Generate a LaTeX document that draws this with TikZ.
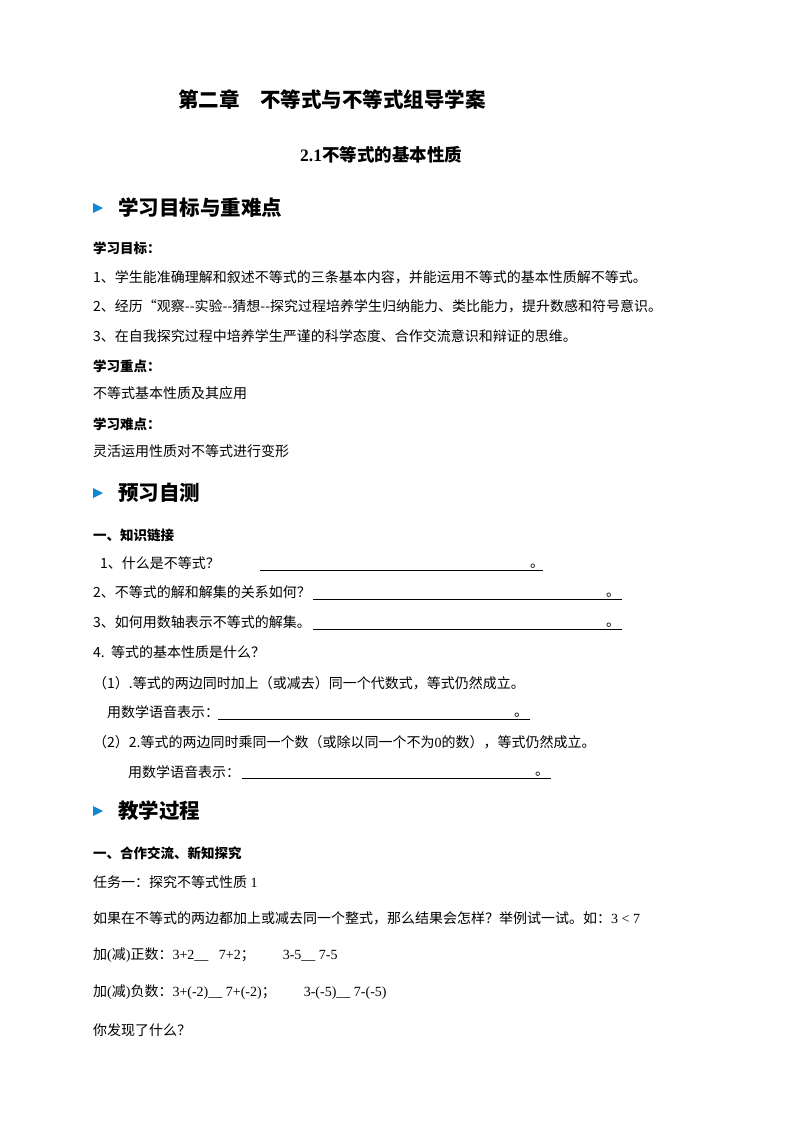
\documentclass[tikz,border=0pt]{standalone}
\usepackage{fontspec}
\setmainfont{Liberation Serif}
\newfontfamily\cjk{Noto Sans CJK SC}
\begin{document}
\begin{tikzpicture}[x=1pt,y=-1pt,
  txt/.style={anchor=west,inner sep=0pt,font=\cjk\fontsize{14}{14}\selectfont},
  btxt/.style={anchor=west,inner sep=0pt,font=\cjk\bfseries\fontsize{13.5}{13.5}\selectfont},
  head/.style={anchor=west,inner sep=0pt,font=\cjk\bfseries\fontsize{20.5}{20.5}\selectfont},
  tri/.style={fill=cyan!70!blue},
  uline/.style={line width=0.8pt}]
\useasboundingbox[fill=white] (0,0) rectangle (800,1132);
\node[head] (t1) at (178,100) {第二章\hspace{1em}不等式与不等式组导学案};
\node[anchor=west,inner sep=0pt,font=\cjk\bfseries\fontsize{17.5}{17.5}\selectfont] (t2) at (300,155) {{\rmfamily\bfseries 2.1}不等式的基本性质};
\foreach \y/\t/\n in {208/学习目标与重难点/h1,493/预习自测/h2,811/教学过程/h3}{
  \fill[tri] (93,\y-5) -- (103,\y) -- (93,\y+5) -- cycle;
  \node[head] (\n) at (118,\y) {\t};
}
\node[btxt] (a1) at (93,248) {学习目标：};
\node[txt] (a2) at (93,277) {1、学生能准确理解和叙述不等式的三条基本内容，并能运用不等式的基本性质解不等式。};
\node[txt] (a3) at (93,306) {2、经历“观察--实验--猜想--探究过程培养学生归纳能力、类比能力，提升数感和符号意识。};
\node[txt] (a4) at (93,336) {3、在自我探究过程中培养学生严谨的科学态度、合作交流意识和辩证的思维。};
\node[btxt] (a5) at (93,366) {学习重点：};
\node[txt] (a6) at (93,393) {不等式基本性质及其应用};
\node[btxt] (a7) at (93,424) {学习难点：};
\node[txt] (a8) at (93,451) {灵活运用性质对不等式进行变形};
\node[btxt] (b1) at (93,535) {一、知识链接};
\node[txt] (b2) at (100,563) {1、什么是不等式？};
\draw[uline] (260,570) -- (543,570); \node[txt] (e1) at (530,566) {。};
\node[txt] (b3) at (93,592) {2、不等式的解和解集的关系如何？};
\draw[uline] (313,599) -- (622,599); \node[txt] (e2) at (606,595) {。};
\node[txt] (b4) at (93,622) {3、如何用数轴表示不等式的解集。};
\draw[uline] (313,629) -- (622,629); \node[txt] (e3) at (606,625) {。};
\node[txt] (b5) at (93,652) {4.\ \ 等式的基本性质是什么？};
\node[txt] (b6) at (93,683) {（1）.等式的两边同时加上（或减去）同一个代数式，等式仍然成立。};
\node[txt] (b7) at (107,712) {用数学语音表示：};
\draw[uline] (218,719) -- (530,719); \node[txt] (e4) at (514,715) {。};
\node[txt] (b8) at (93,742) {（2）2.等式的两边同时乘同一个数（或除以同一个不为{\rmfamily 0}的数），等式仍然成立。};
\node[txt] (b9) at (128,772) {用数学语音表示：};
\draw[uline] (242,778) -- (551,778); \node[txt] (e5) at (535,774) {。};
\node[btxt] (c1) at (93,853) {一、合作交流、新知探究};
\node[txt] (c2) at (93,882) {任务一：探究不等式性质{\rmfamily\ 1}};
\node[txt] (c3) at (93,918) {如果在不等式的两边都加上或减去同一个整式，那么结果会怎样？举例试一试。如：{\rmfamily 3 < 7}};
\node[txt] (c4) at (93,955) {加{\rmfamily(}减{\rmfamily)}正数：{\rmfamily 3+2\_\_\ \ \ 7+2}；\hspace{2em}{\rmfamily 3-5\_\_\ 7-5}};
\node[txt] (c5) at (93,992) {加{\rmfamily(}减{\rmfamily)}负数：{\rmfamily 3+(-2)\_\_\ 7+(-2)}；\hspace{2em}{\rmfamily 3-(-5)\_\_\ 7-(-5)}};
\node[txt] (c6) at (93,1030) {你发现了什么？};
\end{tikzpicture}
\end{document}
